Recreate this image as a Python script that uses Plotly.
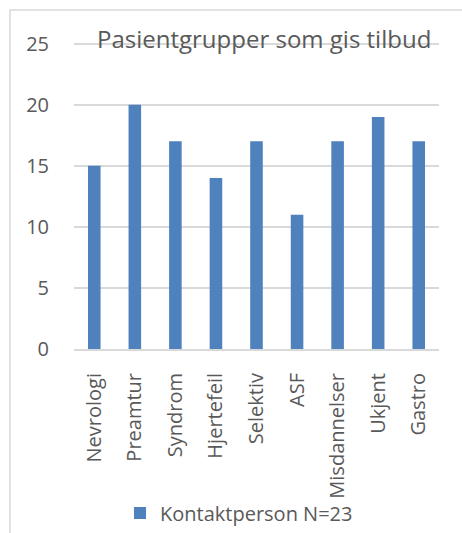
import plotly.graph_objects as go

categories = ["Nevrologi", "Preamtur", "Syndrom", "Hjertefeil", "Selektiv", "ASF",
              "Misdannelser", "Ukjent", "Gastro"]
values = [15, 20, 17, 14, 17, 11, 17, 19, 17]
series_name = "Kontaktperson N=23"
title_text = "Pasientgrupper som gis tilbud"
ytick_vals = [0, 5, 10, 15, 20, 25]

W, H = 462, 533
ml, mr, mt, mb = 74, 23, 40, 184
pw, ph = W - ml - mr, H - mt - mb

def px_x(x):
    return (x - ml) / pw

def px_y(y):
    return (H - mb - y) / ph

font_family = "Open Sans, Noto Sans, sans-serif"
txt = "#595959"
grid = "#d9d9d9"

fig = go.Figure()
fig.add_trace(go.Bar(x=categories, y=values, name=series_name,
                     marker=dict(color="#4f81bd", line=dict(width=0)),
                     width=0.31, showlegend=True))

fig.update_layout(
    template="none",
    width=W, height=H,
    margin=dict(l=ml, r=mr, t=mt, b=mb, pad=0, autoexpand=False),
    paper_bgcolor="white", plot_bgcolor="white",
    font=dict(family=font_family, color=txt, size=20),
    yaxis=dict(range=[0, 25.3], tickvals=ytick_vals, showgrid=True,
               gridcolor=grid, gridwidth=2, zeroline=False, showline=False,
               ticks="outside", ticklen=20, tickcolor="rgba(0,0,0,0)",
               tickfont=dict(size=20, color=txt)),
    xaxis=dict(showline=True, linecolor=grid, linewidth=2,
               ticks="outside", ticklen=14, tickcolor="rgba(0,0,0,0)",
               tickangle=-90, tickfont=dict(size=20, color=txt), showgrid=False),
    showlegend=True,
    legend=dict(orientation="h", xref="container", yref="container",
                x=120 / W, xanchor="left", y=1 - 513 / H, yanchor="middle",
                font=dict(size=20, color=txt),
                itemwidth=30, bgcolor="rgba(0,0,0,0)"),
    annotations=[dict(text=title_text, xref="paper", yref="paper",
                      x=px_x(264), y=px_y(39), xanchor="center", yanchor="middle",
                      showarrow=False, font=dict(size=24, color=txt))],
    shapes=[dict(type="rect", xref="paper", yref="paper",
                 x0=px_x(10), x1=px_x(480), y0=px_y(560), y1=px_y(10),
                 line=dict(color=grid, width=1.5), fillcolor="rgba(0,0,0,0)",
                 layer="above")],
)

fig.write_html("out.html")
